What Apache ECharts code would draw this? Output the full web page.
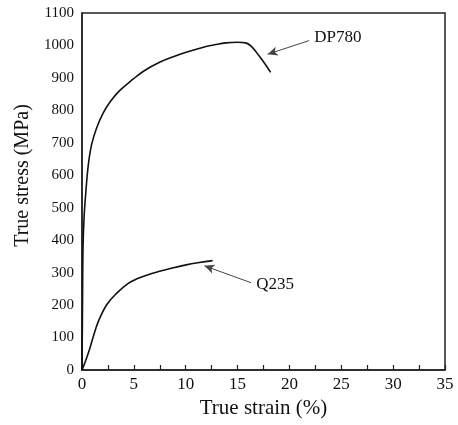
<!DOCTYPE html>
<html>
<head>
<meta charset="utf-8">
<script src="https://cdn.jsdelivr.net/npm/echarts@6/dist/echarts.min.js"></script>
<style>
html,body{margin:0;padding:0;background:#fff;}
#c{width:458px;height:425px;}
</style>
</head>
<body>
<div id="c"></div>
<script>
// Data (true strain %, true stress MPa)
var dp780 = [[0,0],[0.05,200],[0.1,380],[0.2,470],[0.35,540],[0.6,630],[0.93,695],[1.4,745],[2.05,792],[2.7,826],[3.6,860],[4.92,896],[6,922],[7.48,948],[8.8,965],[10.04,979],[11.63,994],[12.8,1002],[13.87,1008],[15,1010],[15.79,1008],[16.4,995],[17.07,968],[17.6,945],[18.19,917]];
var q235 = [[0,0],[0.13,10],[0.61,52],[1.09,103],[1.57,149],[2.38,201],[3.35,237],[4.46,267],[5.3,281],[6.3,293],[7.48,304],[8.8,315],[10.04,324],[11.3,331],[12.59,337]];
var xTicks = [0,5,10,15,20,25,30,35];
var yTicks = [0,100,200,300,400,500,600,700,800,900,1000,1100];
var labelDP = {text:'DP780', at:[22.4,1023], arrowFrom:[21.9,1015], arrowTo:[17.9,973]};
var labelQ = {text:'Q235', at:[16.8,263], arrowFrom:[16.3,269], arrowTo:[11.8,321]};

var font = '"Liberation Serif","Times New Roman",serif';
var chart = echarts.init(document.getElementById('c'));
function annot(lab){
  return {
    markLine: {
      silent:true, symbol:['none','arrow'], symbolSize:[7,10],
      lineStyle:{color:'#444', width:1, type:'solid'},
      label:{show:false},
      data:[[{coord:lab.arrowFrom},{coord:lab.arrowTo}]]
    },
    markPoint: {
      silent:true, symbol:'circle', symbolSize:0,
      data:[{coord:lab.at, value:lab.text}],
      label:{show:true, position:'right', distance:0, formatter:lab.text,
        fontFamily:font, fontSize:17, color:'#111'}
    }
  };
}
var s1 = {type:'line', data:dp780, smooth:0.4, showSymbol:false, lineStyle:{color:'#111', width:1.6}};
Object.assign(s1, annot(labelDP));
var s2 = {type:'line', data:q235, smooth:0.4, showSymbol:false, lineStyle:{color:'#111', width:1.6}};
Object.assign(s2, annot(labelQ));

chart.setOption({
  backgroundColor:'#fff',
  animation:false,
  grid:{left:82, right:13, top:13, bottom:55, show:true, borderColor:'#222', borderWidth:1.5, backgroundColor:'transparent'},
  xAxis:{
    type:'value', min:0, max:35, interval:2.5,
    name:'True strain (%)', nameLocation:'middle', nameGap:24,
    nameTextStyle:{fontFamily:font, fontSize:21, color:'#111'},
    axisLine:{lineStyle:{color:'#222', width:1.5}},
    axisTick:{show:true, inside:true, length:5, lineStyle:{color:'#222', width:1.2}},
    axisLabel:{fontFamily:font, fontSize:17, color:'#111', margin:6,
      formatter:function(v){ return xTicks.indexOf(v) >= 0 ? String(v) : ''; }},
    splitLine:{show:false}
  },
  yAxis:{
    type:'value', min:0, max:1100, interval:100,
    name:'True stress (MPa)', nameLocation:'middle', nameGap:47,
    nameTextStyle:{fontFamily:font, fontSize:20, color:'#111', padding:[0,0,0,32]},
    axisLine:{show:true, lineStyle:{color:'#222', width:1.5}},
    axisTick:{show:false},
    axisLabel:{fontFamily:font, fontSize:15, color:'#111', margin:8,
      formatter:function(v){ return yTicks.indexOf(v) >= 0 ? String(v) : ''; }},
    splitLine:{show:false}
  },
  series:[s1, s2]
});
</script>
</body>
</html>
